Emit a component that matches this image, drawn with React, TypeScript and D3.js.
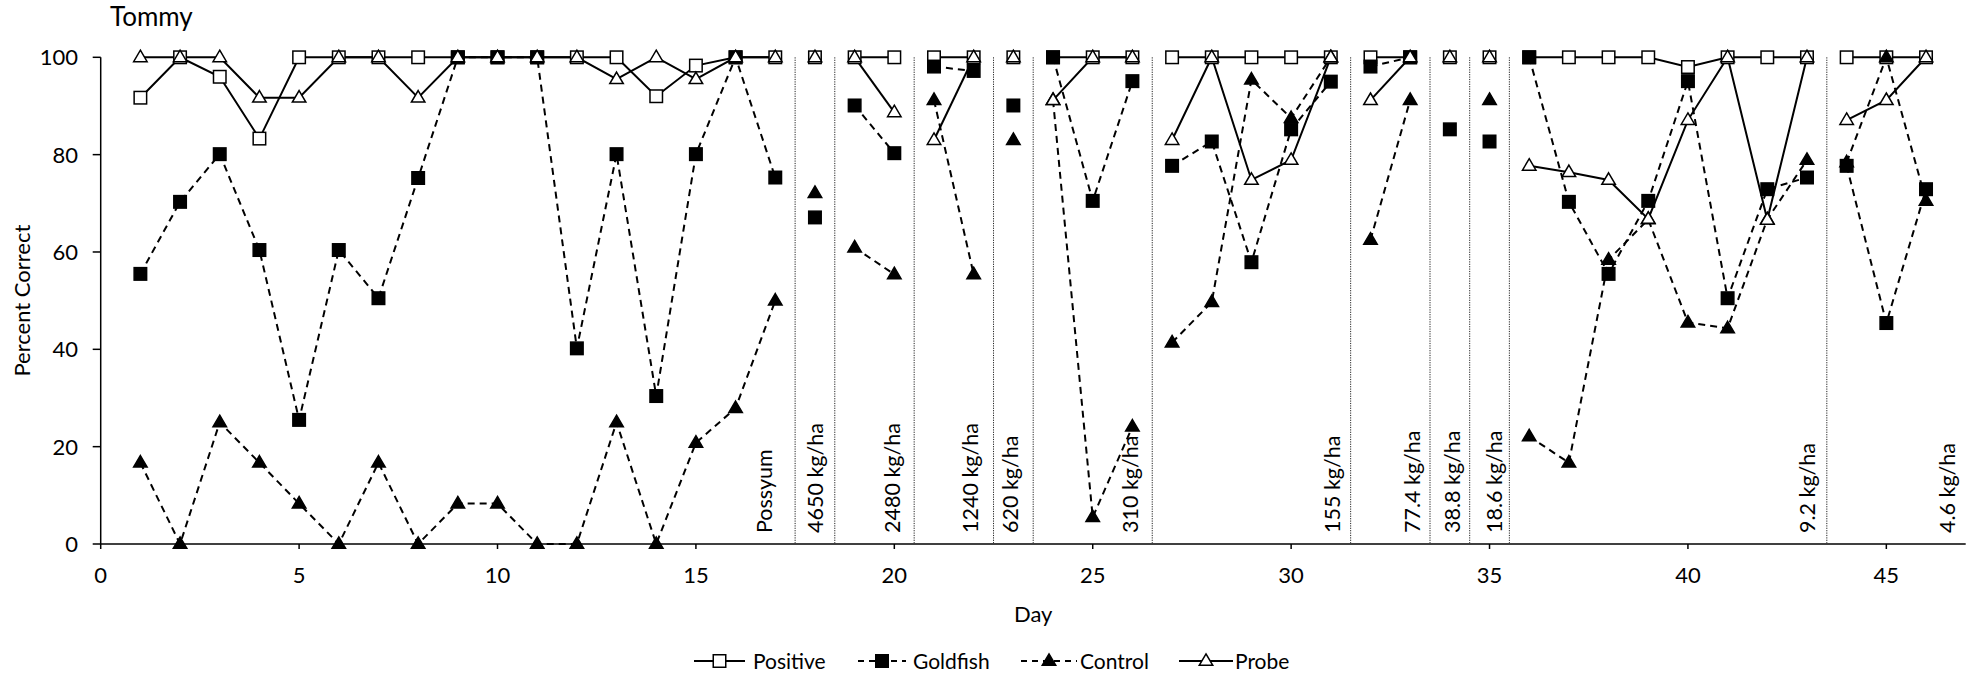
import React from "react";
import * as d3 from "d3";

// ---------- data ----------
const days = [1,2,3,4,5,6,7,8,9,10,11,12,13,14,15,16,17,18,19,20,21,22,23,24,25,26,27,28,29,30,31,32,33,34,35,36,37,38,39,40,41,42,43,44,45,46];

const positive = [91.7,100,96,83.3,100,100,100,100,100,100,100,100,100,92,98.3,100,100,
  100, 100,100, 100,100, 100, 100,100,100, 100,100,100,100,100, 100,100, 100, 100,
  100,100,100,100,98,100,100,100, 100,100,100];

const goldfish = [55.5,70.3,80.1,60.4,25.5,60.4,50.5,75.2,100,100,100,40.2,80.1,30.4,80.1,100,75.3,
  67.1, 90.1,80.3, 98.1,97.2, 90.1, 100,70.5,95.1, 77.7,82.7,57.9,85.2,95.0, 98.1,100, 85.2, 82.7,
  100,70.3,55.5,70.5,95.1,50.5,72.9,75.3, 77.7,45.4,72.9];

const control: (number | null)[] = [16.7,0,25,16.7,8.3,0,16.7,0,8.3,8.3,0,0,25,0,20.8,27.9,50,
  72.1, 60.9,55.4, 91.2,55.4, 83.0, 91.2,5.5,24.1, 41.4,49.7,95.4,87.5,100, 62.5,91.2, null, 91.2,
  22.1,16.7,58.4,66.7,45.5,44.3,66.7,78.9, 78.4,100,70.5];

const probe = [100,100,100,91.7,91.7,100,100,91.7,100,100,100,100,95.5,100,95.5,100,100,
  100, 100,88.7, 83.0,100, 100, 91.2,100,100, 83.0,100,74.8,78.9,100, 91.2,100, 100, 100,
  77.7,76.4,74.8,66.8,87.1,100,66.6,100, 87.1,91.2,100];

const dividers = [17.5, 18.5, 20.5, 22.5, 23.5, 26.5, 31.5, 33.5, 34.5, 35.5, 43.5];
const phaseLabels = ["Possyum","4650 kg/ha","2480 kg/ha","1240 kg/ha","620 kg/ha","310 kg/ha","155 kg/ha","77.4 kg/ha","38.8 kg/ha","18.6 kg/ha","9.2 kg/ha","4.6 kg/ha"];
const phaseLabelDays = [16.76, 18.04, 20.0, 21.95, 22.96, 26.0, 31.09, 33.1, 34.1, 35.16, 43.05, 46.58];

const xTicks = [0,5,10,15,20,25,30,35,40,45];
const yTicks = [0,20,40,60,80,100];

const seriesNames = ["Positive","Goldfish","Control","Probe"];

// ---------- layout ----------
const W = 1982, H = 683;
const FONT = "Lato, 'Open Sans', sans-serif";
const FS = 21;
const FT = 22;
const x = d3.scaleLinear().domain([0, 47]).range([100.7, 1965.7]);
const y = d3.scaleLinear().domain([0, 100]).range([544, 57.3]);

type Pt = { d: number; v: number };

function segmentOf(day: number) {
  return dividers.filter((b) => b < day).length;
}

function segments(vals: (number | null)[]): Pt[][] {
  const groups: Pt[][] = [];
  days.forEach((d, i) => {
    const v = vals[i];
    if (v == null) return;
    const s = segmentOf(d);
    (groups[s] = groups[s] || []).push({ d, v });
  });
  return groups.filter(Boolean);
}

const line = d3.line<Pt>().x((p) => x(p.d)).y((p) => y(p.v));

const SQ = 12.5;
function Marker({ kind, cx, cy }: { kind: string; cx: number; cy: number }) {
  if (kind === "osq" || kind === "fsq") {
    return (
      <rect x={cx - SQ / 2} y={cy - SQ / 2} width={SQ} height={SQ}
        fill={kind === "fsq" ? "#000" : "#fff"} stroke="#000" strokeWidth={1.5} />
    );
  }
  const tw = 13.5, th = 11.5;
  const p = `M${cx},${cy - th * 0.62} L${cx + tw / 2},${cy + th * 0.38} L${cx - tw / 2},${cy + th * 0.38} Z`;
  return <path d={p} fill={kind === "ftri" ? "#000" : "#fff"} stroke="#000" strokeWidth={1.5} strokeLinejoin="miter" />;
}

const series = [
  { name: seriesNames[0], vals: positive as (number | null)[], marker: "osq", dash: "" },
  { name: seriesNames[1], vals: goldfish as (number | null)[], marker: "fsq", dash: "7,5" },
  { name: seriesNames[2], vals: control, marker: "ftri", dash: "7,5" },
  { name: seriesNames[3], vals: probe as (number | null)[], marker: "otri", dash: "" },
];

const legendPos = [
  { x0: 694, x1: 745, tx: 753 },
  { x0: 858, x1: 906, tx: 913 },
  { x0: 1021, x1: 1077, tx: 1080 },
  { x0: 1179, x1: 1233, tx: 1235 },
];

export default function App() {
  return (
    <div style={{ position: "absolute", left: 0, top: 0 }}>
      <svg width={W} height={H} style={{ display: "block", background: "#fff" }} fontFamily={FONT}>
        <rect width={W} height={H} fill="#fff" />
        {/* title */}
        <text x={110} y={26} fontSize={26} fill="#000">Tommy</text>

        {/* dividers */}
        {dividers.map((b) => (
          <line key={b} x1={x(b)} x2={x(b)} y1={y(100)} y2={y(0) - 1}
            stroke="#222" strokeWidth={1} strokeDasharray="1.2,1.2" />
        ))}

        {/* phase labels */}
        {phaseLabels.map((t, i) => {
          const px = x(phaseLabelDays[i]) + 6;
          return (
            <text key={t} transform={`translate(${px},533) rotate(-90)`} fontSize={21.5} fill="#000" textAnchor="start">{t}</text>
          );
        })}

        {/* axes */}
        <line x1={x(0)} x2={x(0)} y1={y(100)} y2={y(0)} stroke="#000" strokeWidth={1.5} />
        <line x1={x(0)} x2={x(47)} y1={y(0)} y2={y(0)} stroke="#000" strokeWidth={1.5} />
        {yTicks.map((t) => (
          <g key={t}>
            <line x1={x(0) - 8} x2={x(0)} y1={y(t)} y2={y(t)} stroke="#000" strokeWidth={1.5} />
            <text x={78} y={y(t)} dy="0.36em" textAnchor="end" fontSize={FT} fill="#000">{t}</text>
          </g>
        ))}
        {xTicks.map((t) => (
          <g key={t}>
            <line x1={x(t)} x2={x(t)} y1={y(0)} y2={y(0) + 5} stroke="#000" strokeWidth={1.5} />
            <text x={x(t)} y={583} textAnchor="middle" fontSize={FT} fill="#000">{t}</text>
          </g>
        ))}
        <text x={(x(0) + x(47)) / 2} y={622} textAnchor="middle" fontSize={FT} fill="#000">Day</text>
        <text transform={`translate(30,${(y(0) + y(100)) / 2}) rotate(-90)`} textAnchor="middle" fontSize={FT} fill="#000">Percent Correct</text>

        {/* series lines */}
        {series.map((s) => (
          <g key={s.name}>
            {segments(s.vals).map((seg, i) => (
              <path key={i} d={line(seg) || ""} fill="none" stroke="#000" strokeWidth={2}
                strokeDasharray={s.dash || undefined} />
            ))}
          </g>
        ))}
        {/* series markers */}
        {series.map((s) => (
          <g key={s.name + "m"}>
            {days.map((d, i) => {
              const v = s.vals[i];
              if (v == null) return null;
              return <Marker key={d} kind={s.marker} cx={x(d)} cy={y(v)} />;
            })}
          </g>
        ))}

        {/* legend */}
        {series.map((s, i) => {
          const L = legendPos[i];
          const ly = 661;
          return (
            <g key={s.name + "l"}>
              <line x1={L.x0} x2={L.x1} y1={ly} y2={ly} stroke="#000" strokeWidth={2}
                strokeDasharray={s.dash ? "6,5" : undefined} />
              <Marker kind={s.marker} cx={(L.x0 + L.x1) / 2} cy={ly} />
              <text x={L.tx} y={ly} dy="0.36em" fontSize={FS} fill="#000">{s.name}</text>
            </g>
          );
        })}
      </svg>
    </div>
  );
}
